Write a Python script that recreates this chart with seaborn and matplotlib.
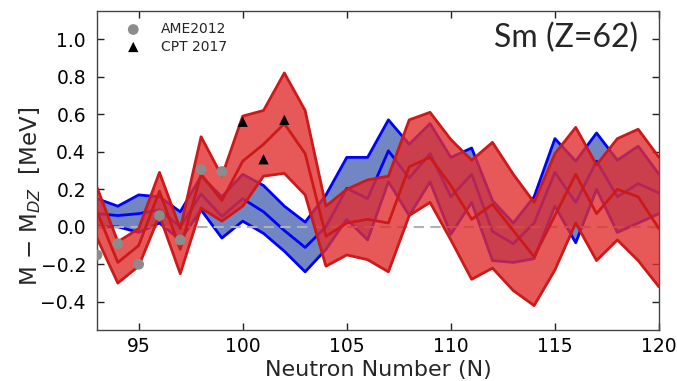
import matplotlib
matplotlib.use("Agg")
import matplotlib.pyplot as plt
import seaborn as sns
import numpy as np

# Neutron numbers for the Sm (Z=62) isotopic chain
neutrons = list(range(93, 121))

# Blue band: model spread (upper, central, lower) in MeV
blue_hi = [0.15, 0.11, 0.17, 0.16, 0.08, 0.27, 0.16, 0.28, 0.22, 0.11, 0.025, 0.17, 0.37, 0.37,
           0.57, 0.44, 0.55, 0.37, 0.42, 0.14, 0.02, 0.16, 0.47, 0.35, 0.50, 0.355, 0.43, 0.28]
blue_mid = [0.07, 0.06, 0.07, 0.09, 0.00, 0.175, 0.055, 0.15, 0.08, -0.02, -0.11, 0.00, 0.205, 0.15,
            0.405, 0.26, 0.39, 0.16, 0.28, -0.025, -0.09, 0.02, 0.29, 0.13, 0.35, 0.16, 0.23, 0.18]
blue_lo = [0.00, 0.00, -0.03, 0.02, -0.07, 0.09, -0.06, 0.03, -0.035, -0.13, -0.24, -0.12, 0.04, -0.07,
           0.24, 0.06, 0.24, -0.04, 0.13, -0.18, -0.19, -0.17, 0.11, -0.085, 0.20, -0.03, 0.02, 0.07]

# Red band: model spread (upper, central, lower) in MeV
red_hi = [0.21, -0.08, -0.01, 0.29, -0.01, 0.48, 0.27, 0.59, 0.62, 0.82, 0.62, 0.11, 0.20, 0.25,
          0.27, 0.57, 0.61, 0.465, 0.355, 0.45, 0.28, 0.13, 0.39, 0.53, 0.33, 0.47, 0.52, 0.37]
red_mid = [0.08, -0.19, -0.10, 0.19, -0.12, 0.28, 0.14, 0.35, 0.44, 0.55, 0.39, -0.05, 0.02, 0.04,
           0.02, 0.32, 0.37, 0.22, 0.04, 0.12, -0.02, -0.16, 0.06, 0.28, 0.07, 0.20, 0.16, -0.01]
red_lo = [-0.06, -0.30, -0.21, 0.06, -0.25, 0.10, 0.03, 0.11, 0.27, 0.285, 0.17, -0.21, -0.15, -0.175,
          -0.24, 0.06, 0.13, -0.07, -0.28, -0.22, -0.34, -0.42, -0.23, 0.02, -0.18, -0.07, -0.18, -0.32]

# Measured mass differences
ame_n = [93, 94, 95, 96, 97, 98, 99]
ame_val = [-0.15, -0.09, -0.20, 0.06, -0.07, 0.305, 0.295]
cpt_n = [100, 101, 102]
cpt_val = [0.56, 0.36, 0.57]

x_ticks = [95, 100, 105, 110, 115, 120]
y_ticks = [-0.4, -0.2, 0.0, 0.2, 0.4, 0.6, 0.8, 1.0]

sns.set_style("ticks", {"xtick.direction": "in", "ytick.direction": "in"})
plt.rcParams["font.family"] = ["DejaVu Sans"]

fig = plt.figure(figsize=(6.77, 3.81), dpi=100)
ax = fig.add_axes([0.1433, 0.1339, 0.8301, 0.8371])

BLUE_FILL = "#7186c3"
BLUE_LINE = "#0000ff"
RED_FILL = "#e22e2e"
RED_LINE = "#cc1a1a"

# Blue band
ax.fill_between(neutrons, blue_lo, blue_hi, color=BLUE_FILL, lw=0, zorder=1)
for arr in (blue_hi, blue_mid, blue_lo):
    sns.lineplot(x=neutrons, y=arr, color=BLUE_LINE, lw=2.0, ax=ax, zorder=2, legend=False)

# Zero reference
ax.axhline(0.0, color="#b0b0b0", ls=(0, (5, 3)), lw=1.5, zorder=2.5)

# Red band
ax.fill_between(neutrons, red_lo, red_hi, color=RED_FILL, alpha=0.8, lw=0, zorder=3)
for arr in (red_hi, red_mid, red_lo):
    sns.lineplot(x=neutrons, y=arr, color=RED_LINE, lw=2.0, ax=ax, zorder=4, legend=False)

# Data points
sns.scatterplot(x=ame_n, y=ame_val, color="#8c8c8c", marker="o", s=60, edgecolor="none",
                label="AME2012", ax=ax, zorder=5)
sns.scatterplot(x=cpt_n, y=cpt_val, color="black", marker="^", s=55, edgecolor="none",
                label="CPT 2017", ax=ax, zorder=6)

ax.set_xlim(93, 120)
ax.set_ylim(-0.55, 1.15)
ax.set_xticks(x_ticks)
ax.set_yticks(y_ticks)
ax.set_yticklabels([f"{v:.1f}".replace("-", "\u2212") for v in y_ticks])
ax.tick_params(axis="both", which="major", direction="in", top=True, right=True,
               length=5, width=1, labelsize=13.5, colors="#222222", labelcolor="black")
ax.tick_params(axis="x", pad=5)
ax.tick_params(axis="y", pad=8)
for sp in ax.spines.values():
    sp.set_color("#444444")
    sp.set_linewidth(1.0)

ax.set_xlabel("Neutron Number (N)", fontsize=16, labelpad=3)
ax.set_ylabel(r"M $-$ M$_{DZ}$  [MeV]", fontsize=16.5)
ax.yaxis.set_label_coords(-0.097, 0.42)

ax.text(0.962, 0.915, "Sm (Z=62)", transform=ax.transAxes, ha="right", va="center",
        fontsize=23, family="Lato")

leg = ax.legend(loc="upper left", frameon=False, fontsize=10, handletextpad=1.0,
                borderaxespad=0.4, labelspacing=0.25, bbox_to_anchor=(0.02, 1.0))

fig.savefig("out.png", dpi=100)
